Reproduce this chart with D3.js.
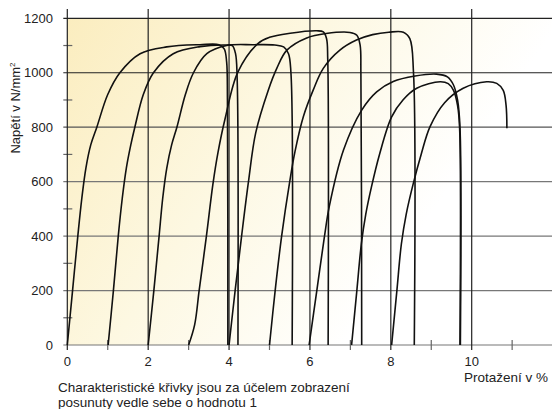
<!DOCTYPE html>
<html lang="cs">
<head>
  <meta charset="UTF-8" />
  <title>Napětí – protažení</title>
  <script src="https://d3js.org/d3.v7.min.js"></script>
  <style>
    body {
      margin: 0;
      background: #fff;
    }
    svg text {
      font-family: "Liberation Sans", Arial, sans-serif;
      fill: #222;
    }
  </style>
</head>
<body>
  <svg width="552" height="409"></svg>

  <script>
    // Tick values
    const xMajor = [0, 2, 4, 6, 8, 10];
    const xMinor = [1, 3, 5, 7, 9, 11];
    const yMajor = [0, 200, 400, 600, 800, 1000, 1200];
    const yMinor = [100, 300, 500, 700, 900, 1100];

    // Stress–strain curves, each shifted by 1 % (strain %, stress N/mm²)
    const curve0 = [[0, 0], [0.13, 200], [0.26, 400], [0.36, 540], [0.46, 650], [0.58, 735], [0.73, 800],
      [1.0, 920], [1.30, 1000], [1.80, 1070], [2.46, 1095], [3.28, 1103], [3.75, 1103], [3.88, 1088],
      [3.94, 1040], [3.96, 900], [3.97, 0]];
    const curve1 = [[1.01, 0], [1.14, 200], [1.26, 400], [1.36, 540], [1.46, 650], [1.57, 735], [1.67, 800],
      [1.88, 920], [2.13, 1000], [2.62, 1070], [3.28, 1096], [3.94, 1102], [4.08, 1100], [4.16, 1070],
      [4.20, 980], [4.22, 0]];
    const curve2 = [[2.0, 0], [2.14, 200], [2.27, 400], [2.36, 540], [2.46, 650], [2.58, 735], [2.71, 800],
      [2.92, 920], [3.12, 1000], [3.45, 1070], [3.94, 1100], [4.6, 1103], [5.13, 1102], [5.35, 1095],
      [5.47, 1070], [5.53, 1000], [5.56, 0]];
    const curve3 = [[3.0, 0], [3.15, 75], [3.26, 200], [3.44, 400], [3.60, 590], [3.73, 710], [3.90, 830],
      [4.22, 1003], [4.72, 1108], [5.0, 1130], [5.51, 1145], [6.17, 1154], [6.33, 1150], [6.41, 1126],
      [6.44, 1050], [6.45, 0]];
    const curve4 = [[4.0, 0], [4.15, 200], [4.31, 400], [4.48, 600], [4.66, 780], [4.97, 936], [5.18, 1016],
      [5.43, 1083], [5.92, 1128], [6.40, 1144], [6.99, 1148], [7.16, 1138], [7.24, 1102], [7.26, 1000], [7.28, 0]];
    const curve5 = [[5.0, 0], [5.14, 200], [5.30, 400], [5.50, 600], [5.63, 710], [5.84, 840], [6.08, 936],
      [6.33, 1016], [6.74, 1083], [7.15, 1120], [7.55, 1140], [7.95, 1149], [8.31, 1149], [8.47, 1125],
      [8.56, 1003], [8.58, 0]];
    const curve6 = [[5.98, 0], [6.17, 200], [6.36, 400], [6.48, 510], [6.83, 716], [7.28, 863], [7.65, 930],
      [8.06, 968], [8.6, 988], [9.13, 995], [9.40, 985], [9.55, 955], [9.65, 900], [9.71, 800], [9.72, 0]];
    const curve7 = [[7.03, 0], [7.16, 200], [7.27, 370], [7.38, 480], [7.52, 580], [7.72, 700], [8.02, 838],
      [8.30, 900], [8.64, 943], [9.22, 967], [9.42, 960], [9.55, 935], [9.65, 880], [9.70, 800], [9.71, 0]];
    const curve8 = [[8.02, 0], [8.15, 200], [8.26, 370], [8.38, 480], [8.55, 590], [8.75, 700], [8.97, 802],
      [9.33, 890], [9.79, 943], [10.37, 967], [10.62, 961], [10.78, 935], [10.85, 880], [10.87, 796]];
    const curves = [curve0, curve1, curve2, curve3, curve4, curve5, curve6, curve7, curve8];

    const svg = d3.select("svg");
    const W = +svg.attr("width");

    const x = d3.scaleLinear().domain([0, 10]).range([67.3, 471.7]);
    const y = d3.scaleLinear().domain([0, 1200]).range([345, 18.3]);

    // background gradient
    const grad = svg.append("defs").append("linearGradient")
      .attr("id", "bg")
      .attr("x1", 0).attr("y1", 0).attr("x2", 1).attr("y2", 0.45);
    grad.append("stop").attr("offset", 0).attr("stop-color", "#fbedbf");
    grad.append("stop").attr("offset", 0.45).attr("stop-color", "#fdf8e2");
    grad.append("stop").attr("offset", 0.85).attr("stop-color", "#ffffff");

    svg.append("rect")
      .attr("x", x(0)).attr("y", y(1200))
      .attr("width", W - x(0)).attr("height", y(0) - y(1200))
      .attr("fill", "url(#bg)");

    // horizontal grid
    svg.append("g").selectAll("line")
      .data(yMajor)
      .join("line")
      .attr("x1", x(0) - 4).attr("x2", W)
      .attr("y1", d => y(d)).attr("y2", d => y(d))
      .attr("stroke", d => d >= 1000 ? "#222" : d === 800 ? "#555" : "#777")
      .attr("stroke-width", 1.2);

    svg.append("g").selectAll("line")
      .data(yMinor)
      .join("line")
      .attr("x1", x(0) - 4).attr("x2", x(0) + 5)
      .attr("y1", d => y(d)).attr("y2", d => y(d))
      .attr("stroke", "#666")
      .attr("stroke-width", 1.2);

    // vertical grid
    svg.append("g").selectAll("line")
      .data(xMajor)
      .join("line")
      .attr("x1", d => x(d)).attr("x2", d => x(d))
      .attr("y1", 9).attr("y2", y(0) + 5)
      .attr("stroke", "#222")
      .attr("stroke-width", 1.2);

    svg.append("g").selectAll("line")
      .data(xMinor)
      .join("line")
      .attr("x1", d => x(d)).attr("x2", d => x(d))
      .attr("y1", y(0) - 5).attr("y2", y(0) + 5)
      .attr("stroke", "#666")
      .attr("stroke-width", 1.2);

    // tick labels
    svg.append("g").selectAll("text")
      .data(yMajor)
      .join("text")
      .attr("x", 53).attr("y", d => y(d))
      .attr("dy", "0.35em")
      .attr("text-anchor", "end")
      .attr("font-size", 13)
      .text(d => d);

    svg.append("g").selectAll("text")
      .data(xMajor)
      .join("text")
      .attr("x", d => x(d)).attr("y", 366)
      .attr("text-anchor", "middle")
      .attr("font-size", 13)
      .text(d => d);

    // curves
    const line = d3.line()
      .x(d => x(d[0]))
      .y(d => y(d[1]))
      .curve(d3.curveCatmullRom.alpha(0.5));

    svg.append("g").selectAll("path")
      .data(curves)
      .join("path")
      .attr("d", line)
      .attr("fill", "none")
      .attr("stroke", "#111")
      .attr("stroke-width", 1.6);

    // titles
    svg.append("text")
      .attr("transform", "translate(20,108) rotate(-90)")
      .attr("text-anchor", "middle")
      .attr("font-size", 13)
      .html('Napětí v N/mm<tspan dy="-5" font-size="8">2</tspan>');

    svg.append("text")
      .attr("x", 548).attr("y", 382)
      .attr("text-anchor", "end")
      .attr("font-size", 13.5)
      .text("Protažení v %");

    svg.append("text")
      .attr("x", 58).attr("y", 392)
      .attr("font-size", 13.5)
      .text("Charakteristické křivky jsou za účelem zobrazení");

    svg.append("text")
      .attr("x", 58).attr("y", 407)
      .attr("font-size", 13.5)
      .text("posunuty vedle sebe o hodnotu 1");
  </script>
</body>
</html>
